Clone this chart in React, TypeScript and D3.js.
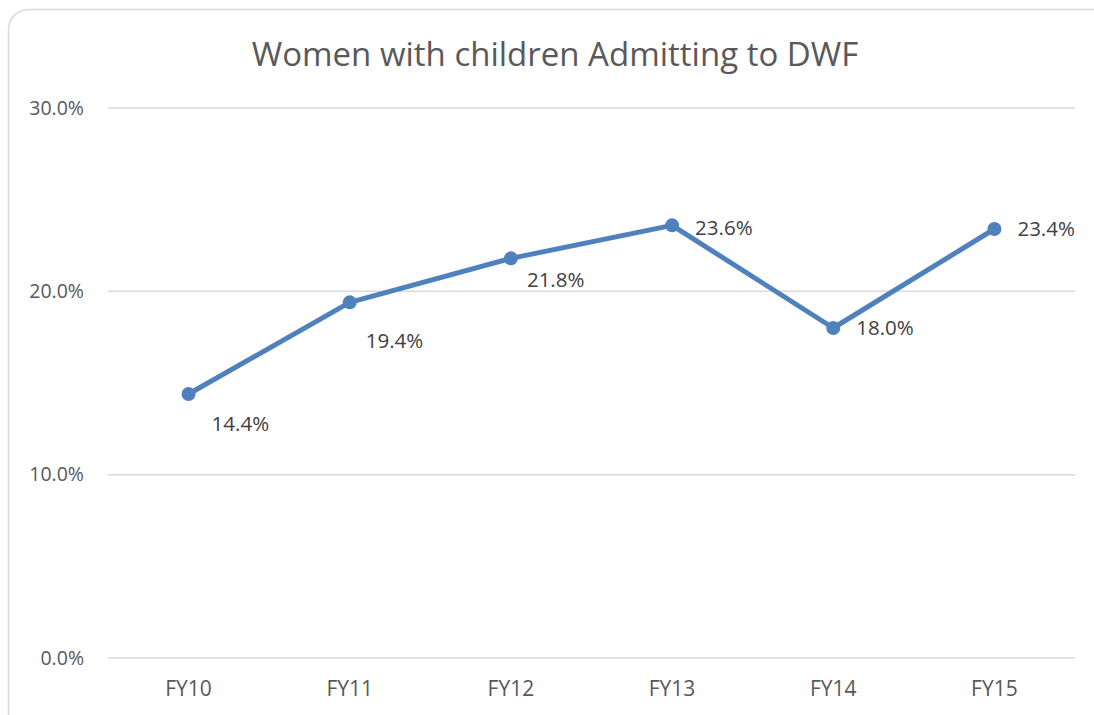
import React from 'react';
import * as d3 from 'd3';

const categories = ['FY10', 'FY11', 'FY12', 'FY13', 'FY14', 'FY15'];
const values = [14.4, 19.4, 21.8, 23.6, 18.0, 23.4];
const yTicks = [0, 10, 20, 30];
const title = 'Women with children Admitting to DWF';

// where Excel put each data label, relative to its point
const labelOffsets: [number, number][] = [
    [23, 30], [16, 38], [16, 21], [23, 2], [23, 0], [23, 0],
];

const W = 1094;
const H = 715;
const margin = { top: 108, right: 19, bottom: 57, left: 108 };
const font = '"Open Sans", "Noto Sans", sans-serif';

const App: React.FC = () => {
    const x = d3.scaleBand<string>()
        .domain(categories)
        .range([margin.left, W - margin.right]);

    const y = d3.scaleLinear()
        .domain([0, 30])
        .range([H - margin.bottom, margin.top]);

    const cx = (c: string) => (x(c) || 0) + x.bandwidth() / 2;

    const line = d3.line<number>()
        .x((_, i) => cx(categories[i]))
        .y(d => y(d));

    return (
        <div style={{ position: 'absolute', left: 0, top: 0 }}>
            <svg width={W} height={H} style={{ display: 'block', fontFamily: font }}>
                <rect x={0} y={0} width={W} height={H} fill="#fff" />
                <rect x={8.5} y={9.5} width={W + 20} height={H + 20} rx={20}
                    fill="#fff" stroke="#d9d9d9" strokeWidth={1.5} />

                <text x={555} y={66} textAnchor="middle" fontSize={33} fill="#595959">{title}</text>

                {yTicks.map(t => (
                    <g key={t}>
                        <line x1={margin.left} x2={W - margin.right} y1={y(t)} y2={y(t)}
                            stroke="#d9d9d9" strokeWidth={1.5} />
                        <text x={84} y={y(t)} dy="0.35em" textAnchor="end" fontSize={19.5} fill="#595959">
                            {d3.format('.1f')(t) + '%'}
                        </text>
                    </g>
                ))}

                {categories.map(c => (
                    <text key={c} x={cx(c)} y={H - margin.bottom + 31} dy="0.35em" textAnchor="middle"
                        fontSize={21} fill="#595959">{c}</text>
                ))}

                <path d={line(values) || ''} fill="none" stroke="#4f81bd" strokeWidth={5}
                    strokeLinejoin="round" />
                {values.map((v, i) => (
                    <circle key={i} cx={cx(categories[i])} cy={y(v)} r={7} fill="#4f81bd" />
                ))}

                {values.map((v, i) => (
                    <text key={'l' + i} x={cx(categories[i]) + labelOffsets[i][0]}
                        y={y(v) + labelOffsets[i][1]} dy="0.35em" fontSize={20.5} fill="#404040">
                        {d3.format('.1f')(v) + '%'}
                    </text>
                ))}
            </svg>
        </div>
    );
};

export default App;
